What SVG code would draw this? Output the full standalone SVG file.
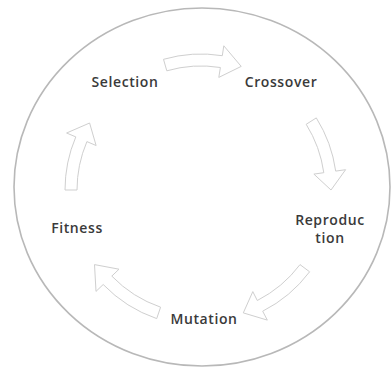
<svg xmlns="http://www.w3.org/2000/svg" width="391" height="375" viewBox="0 0 391 375">
<style>
.lbl{font-family:"Open Sans","Liberation Sans",sans-serif;font-weight:600;font-size:14px;fill:#3a3a3a;text-anchor:middle;letter-spacing:0.6px}
.arr{fill:#ffffff;stroke:#cfcfcf;stroke-width:1;stroke-linejoin:round}
</style>
<rect width="391" height="375" fill="#ffffff"/>
<ellipse cx="202" cy="187" rx="188" ry="179" fill="none" stroke="#b8b8b8" stroke-width="1.6"/>
<g id="connectors">
<path class="arr" d="M163.5,59.3 A136,136 0 0 1 222.3,55.7 L223.8,45.8 L241.2,66.4 L218.8,77.4 L220.4,67.5 A124,124 0 0 0 166.8,70.8 Z"/>
<path class="arr" d="M316.3,117.9 A136,136 0 0 1 335.7,171.1 L345.6,169.7 L331,190 L313.9,174.1 L323.8,172.7 A124,124 0 0 0 306.2,124.3 Z"/>
<path class="arr" d="M309.6,271.8 A136,136 0 0 1 262.7,311.2 L267.3,320.1 L243.3,312.9 L252.8,291.6 L257.3,300.5 A124,124 0 0 0 300.0,264.6 Z"/>
<path class="arr" d="M156.7,318.6 A136,136 0 0 1 103.2,284.5 L96.0,291.4 L94.5,264.6 L119.0,269.2 L111.8,276.1 A124,124 0 0 0 160.6,307.2 Z"/>
<path class="arr" d="M65,190 A136,136 0 0 1 75.8,136.9 L66.6,133.0 L89.6,123.0 L96.1,145.5 L86.9,141.6 A124,124 0 0 0 77,190 Z"/>
</g>
<g id="selection"><text class="lbl" x="125" y="87">Selection</text></g>
<g id="crossover"><text class="lbl" x="281" y="87">Crossover</text></g>
<g id="reproduction"><text class="lbl" x="330" y="225">Reproduc</text><text class="lbl" x="330" y="243">tion</text></g>
<g id="mutation"><text class="lbl" x="204" y="324">Mutation</text></g>
<g id="fitness"><text class="lbl" x="77" y="233">Fitness</text></g>
</svg>
